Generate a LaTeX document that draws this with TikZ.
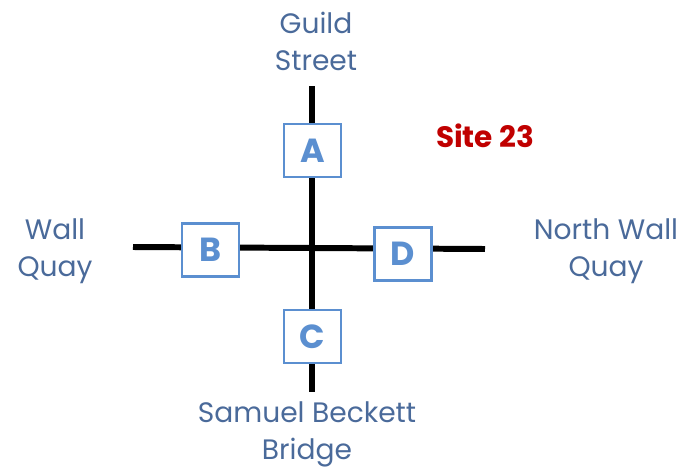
\documentclass[tikz,border=0pt]{standalone}
\usepackage{fontspec}
\setmainfont{Poppins}
\definecolor{boxblue}{HTML}{5B8FD0}
\definecolor{roadtext}{HTML}{4A6A9A}
\definecolor{sitered}{HTML}{C00000}
\tikzset{
  road/.style={line width=3.4pt},
  gate/.style={draw=boxblue,line width=1.6pt,fill=white,minimum width=1.14cm,
    minimum height=1.06cm,inner sep=0pt,font=\fontsize{19}{19}\selectfont\bfseries,text=boxblue},
  street/.style={align=center,text=roadtext,inner sep=1pt,font=\fontsize{16}{21}\selectfont},
}
\begin{document}
\begin{tikzpicture}[x=0.02cm,y=-0.02cm]
  \useasboundingbox (0,0) rectangle (681,467);
  % road ends
  \coordinate (n) at (312,86);
  \coordinate (s) at (312,392);
  \coordinate (w) at (133,247);
  \coordinate (e) at (485,249);
  \coordinate (x) at (312,248);
  \draw[road] (n) -- (s);
  \draw[road] (w) -- (x);
  \draw[road] (x) -- (e);
%
  \node[gate] (A) at (312.5,150.5) {A};
  \node[gate] (B) at (210.5,250) {B};
  \node[gate] (C) at (312.5,336.5) {C};
  \node[gate] (D) at (403,254) {D};
%
  \node[street] (guild)  at (316,41)  {Guild\\Street};
  \node[street] (wall)   at (55,251)  {Wall\\Quay};
  \node[street] (nwall)  at (606,251) {North Wall\\Quay};
  \node[street] (bridge) at (307,434) {Samuel Beckett\\Bridge};
  \node[text=sitered,font=\fontsize{16.8}{16.8}\selectfont\bfseries] (site) at (485,136) {Site 23};
\end{tikzpicture}
\end{document}
